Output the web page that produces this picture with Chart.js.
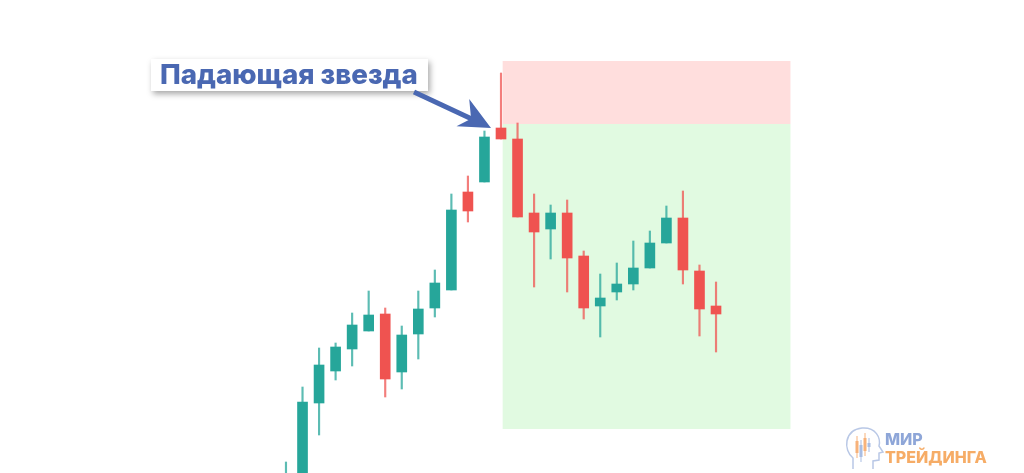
<!DOCTYPE html>
<html lang="ru">
<head>
<meta charset="utf-8">
<title>Падающая звезда</title>
<script src="https://cdn.jsdelivr.net/npm/chart.js@4.4.1/dist/chart.umd.min.js"></script>
<style>
    html, body { margin: 0; padding: 0; background: #ffffff; }
    #wrap { position: relative; width: 1024px; height: 473px; }
</style>
</head>
<body>
<div id="wrap"><canvas id="chart"></canvas></div>
<script>
// candle data (price units)
const opens  = [-40, -15,  70, 102, 124, 142, 159, 101, 139, 165, 183, 281, 291, 345, 334, 260, 244, 260, 217, 167, 181, 189, 205, 230, 255, 202, 167];
const closes = [ -5,  71, 108, 126, 148, 158,  94, 138, 164, 190, 263, 262, 336, 334, 256, 241, 260, 215, 165, 175, 189, 205, 230, 255, 203, 164, 159];
const highs  = [ 11,  86, 125, 130, 160, 182, 165, 147, 182, 203, 279, 297, 342, 400, 350, 279, 268, 273, 222, 199, 210, 232, 242, 267, 282, 208, 191];
const lows   = [-45, -20,  38,  93, 107, 142,  76,  84, 114, 156, 183, 251, 291, 334, 256, 186, 214, 181, 154, 136, 173, 183, 205, 230, 189, 137, 121];

// trade zones after the shooting star
const zoneFrom = 13.1;
const zoneTo = 30.5;
const stopTop = 412;
const entryLevel = 349;
const targetLevel = 44;
const starIndex = 13;

const labelText = "Падающая звезда";
const logoTop = "МИР";
const logoBottom = "ТРЕЙДИНГА";

const UP = "#26a69a";
const DOWN = "#ef5350";

const bodyData = opens.map((o, i) => ({ x: i, y: [o, closes[i]] }));
const wickData = lows.map((l, i) => ({ x: i, y: [l, highs[i]] }));
const bodyColors = opens.map((o, i) => closes[i] >= o ? UP : DOWN);
const wickColors = opens.map((o, i) => closes[i] >= o ? "rgba(38,166,154,0.75)" : "rgba(239,83,80,0.75)");

// zones drawn behind the candles
const zonesPlugin = {
    id: "zones",
    beforeDatasetsDraw(chart) {
        const { ctx, scales: { x, y } } = chart;
        const left = x.getPixelForValue(zoneFrom);
        const right = x.getPixelForValue(zoneTo);
        ctx.save();
        ctx.fillStyle = "#ffdedd";
        ctx.fillRect(left, y.getPixelForValue(stopTop), right - left, y.getPixelForValue(entryLevel) - y.getPixelForValue(stopTop));
        ctx.fillStyle = "#e1fae1";
        ctx.fillRect(left, y.getPixelForValue(entryLevel), right - left, y.getPixelForValue(targetLevel) - y.getPixelForValue(entryLevel));
        ctx.restore();
    }
};

// label with arrow and logo
const notesPlugin = {
    id: "notes",
    afterDraw(chart) {
        const { ctx, scales: { x, y } } = chart;
        ctx.save();

        // label box
        ctx.shadowColor = "rgba(0,0,0,0.35)";
        ctx.shadowBlur = 6;
        ctx.shadowOffsetX = 2;
        ctx.shadowOffsetY = 3;
        ctx.fillStyle = "#ffffff";
        ctx.fillRect(151, 59, 277, 32);
        ctx.shadowColor = "transparent";

        let size = 25;
        ctx.font = `800 ${size}px Inter, "DejaVu Sans", sans-serif`;
        const w = ctx.measureText(labelText).width;
        size = size * 258 / w;
        ctx.font = `800 ${size}px Inter, "DejaVu Sans", sans-serif`;
        ctx.fillStyle = "#4a68b2";
        ctx.textBaseline = "alphabetic";
        ctx.fillText(labelText, 160, 84);

        // arrow to the star candle
        const tipX = x.getPixelForValue(starIndex) - 10;
        const tipY = y.getPixelForValue(opens[starIndex]);
        const startX = 414, startY = 92;
        const ang = Math.atan2(tipY - startY, tipX - startX);
        ctx.strokeStyle = "#4a68b2";
        ctx.fillStyle = "#4a68b2";
        ctx.lineWidth = 5;
        ctx.beginPath();
        ctx.moveTo(startX, startY);
        ctx.lineTo(tipX - 20 * Math.cos(ang), tipY - 20 * Math.sin(ang));
        ctx.stroke();
        ctx.translate(tipX, tipY);
        ctx.rotate(ang);
        ctx.beginPath();
        ctx.moveTo(0, 0);
        ctx.lineTo(-32, -17);
        ctx.lineTo(-22, 0);
        ctx.lineTo(-32, 13);
        ctx.closePath();
        ctx.fill();
        ctx.setTransform(1, 0, 0, 1, 0, 0);

        // logo
        ctx.strokeStyle = "#b9c8e6";
        ctx.lineWidth = 1.5;
        ctx.beginPath();
        ctx.moveTo(853, 469);
        ctx.lineTo(853, 458);
        ctx.bezierCurveTo(843, 450, 844, 430, 862, 428);
        ctx.bezierCurveTo(876, 427, 881, 438, 879, 446);
        ctx.lineTo(883, 452);
        ctx.lineTo(879, 453);
        ctx.lineTo(879, 460);
        ctx.lineTo(873, 461);
        ctx.lineTo(873, 469);
        ctx.stroke();
        const sticks = [[857, 436, 458, "#f7b27a"], [861, 440, 462, "#a9bde3"], [865, 433, 456, "#f7b27a"], [869, 438, 452, "#a9bde3"]];
        sticks.forEach(([sx, t, b, c]) => {
            ctx.strokeStyle = c;
            ctx.lineWidth = 1;
            ctx.beginPath();
            ctx.moveTo(sx, t);
            ctx.lineTo(sx, b);
            ctx.stroke();
            ctx.fillStyle = c;
            ctx.fillRect(sx - 1.5, t + 5, 3, (b - t) - 10);
        });
        ctx.font = `800 16px Inter, "DejaVu Sans", sans-serif`;
        ctx.fillStyle = "#8ea6d8";
        ctx.fillText(logoTop, 885, 445);
        ctx.fillStyle = "#f6ac66";
        ctx.fillText(logoBottom, 885, 463);
        ctx.restore();
    }
};

const ctx = document.getElementById("chart").getContext("2d");
new Chart(ctx, {
    type: "bar",
    data: {
        datasets: [
            {
                label: "body",
                data: bodyData,
                backgroundColor: bodyColors,
                barThickness: 10,
                grouped: false,
                order: 0
            },
            {
                label: "wick",
                data: wickData,
                backgroundColor: wickColors,
                barThickness: 1.5,
                grouped: false,
                order: 1
            }
        ]
    },
    options: {
        responsive: true,
        maintainAspectRatio: false,
        animation: false,
        layout: { padding: 0 },
        plugins: {
            legend: { display: false },
            tooltip: { enabled: false }
        },
        scales: {
            x: {
                type: "linear",
                offset: false,
                min: -17.29,
                max: 44.62,
                display: false
            },
            y: {
                min: 0,
                max: 473,
                display: false
            }
        }
    },
    plugins: [zonesPlugin, notesPlugin]
});
</script>
</body>
</html>
